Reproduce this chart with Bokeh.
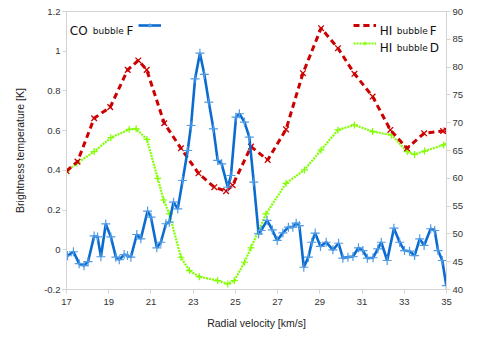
from bokeh.plotting import figure
from bokeh.models import (LinearAxis, Range1d, FixedTicker, Label, Legend, LegendItem)
from bokeh.embed import file_html
from bokeh.resources import INLINE

# ---- data -------------------------------------------------------------
co_v = [17.05, 17.33, 17.6, 17.83, 18.02, 18.31, 18.47, 18.63, 18.86, 19.1,
        19.34, 19.5, 19.73, 19.89, 20.05, 20.33, 20.52, 20.84, 21.0, 21.28,
        21.47, 21.71, 21.87, 22.07, 22.27, 22.5, 22.74, 22.9, 23.09, 23.32,
        23.53, 23.74, 23.96, 24.16, 24.35, 24.64, 24.79, 25.03, 25.19, 25.43,
        25.66, 25.87, 26.1, 26.22, 26.5, 26.75, 26.98, 27.25, 27.51, 27.72,
        27.88, 28.03, 28.24, 28.46, 28.62, 28.78, 29.03, 29.3, 29.62, 29.89,
        30.09, 30.33, 30.57, 30.83, 31.04, 31.25, 31.52, 31.75, 31.91, 32.19,
        32.51, 32.78, 33.01, 33.25, 33.49, 33.73, 33.94, 34.25, 34.44, 34.6,
        34.8, 34.99]
co_t = [-0.03, -0.01, -0.07, -0.08, -0.06, 0.07, 0.065, -0.035, 0.13, 0.065,
        -0.037, -0.05, -0.024, -0.029, -0.037, 0.077, 0.055, 0.195, 0.164, 0.01,
        0.038, 0.131, 0.139, 0.24, 0.206, 0.349, 0.5, 0.626, 0.861, 0.99,
        0.883, 0.744, 0.609, 0.45, 0.433, 0.315, 0.374, 0.668, 0.685, 0.643,
        0.567, 0.341, 0.08, 0.097, 0.148, 0.1, 0.047, 0.085, 0.114, 0.114,
        0.134, 0.122, -0.088, -0.037, 0.038, 0.084, 0.017, 0.038, 0.0, 0.033,
        -0.042, -0.037, -0.034, 0.01, -0.004, -0.042, -0.04, 0.005, 0.038, -0.054,
        0.109, 0.038, -0.004, -0.007, -0.029, 0.055, 0.022, 0.106, 0.097, -0.004,
        -0.054, -0.18]

hif_v = [17.0, 17.52, 18.31, 19.07, 19.9, 20.4, 20.8, 21.63, 22.42, 23.25,
         24.0, 24.56, 24.87, 25.74, 26.53, 27.4, 28.2, 29.06, 29.86, 30.64,
         31.5, 32.34, 33.13, 33.94, 34.84, 35.0]
hif_t = [61.3, 63.0, 70.8, 72.8, 79.5, 81.2, 79.5, 69.9, 65.4, 60.9,
         58.4, 57.7, 58.75, 65.7, 63.3, 68.8, 78.9, 87.0, 83.4, 78.8,
         74.7, 68.7, 65.4, 68.1, 68.5, 68.6]

hid_v = [17.0, 17.49, 18.31, 19.1, 19.97, 20.3, 20.81, 21.32, 21.6, 21.87,
         22.42, 22.82, 23.29, 24.16, 24.64, 24.95, 25.43, 25.74, 26.45, 27.4,
         28.27, 29.06, 29.86, 30.64, 31.5, 32.39, 33.14, 33.49, 33.96, 34.87, 35.0]
hid_t = [61.3, 62.7, 64.8, 67.3, 68.8, 68.9, 67.0, 60.0, 56.1, 53.6,
         45.8, 43.4, 42.3, 41.6, 41.0, 41.6, 44.9, 47.5, 53.6, 59.1,
         61.5, 65.1, 68.7, 69.6, 68.4, 67.8, 64.8, 64.3, 64.9, 66.0, 66.2]

x_ticks = [17, 19, 21, 23, 25, 27, 29, 31, 33, 35]
left_ticks = [-0.2, 0, 0.2, 0.4, 0.6, 0.8, 1, 1.2]
left_tick_labels = ["-0.2", "0", "0.2", "0.4", "0.6", "0.8", "1", "1.2"]
right_ticks = [40, 45, 50, 55, 60, 65, 70, 75, 80, 85, 90]

# ---- style ------------------------------------------------------------
BLUE = "#0a6bd0"
BLUE_M = "#4f9be6"
RED = "#cc0000"
GREEN = "#80ff00"
GREY = "#d4d4d4"
TXT = "#333333"
TICK_FONT = "Liberation Sans"

p = figure(output_backend="svg", toolbar_location=None,
           frame_width=380, frame_height=278, width=482, height=337,
           x_range=Range1d(17, 35), y_range=Range1d(-0.2, 1.2),
           min_border_left=66, min_border_right=36, min_border_top=11,
           min_border_bottom=48)
p.extra_y_ranges = {"right": Range1d(40, 90)}
p.grid.visible = False
p.outline_line_color = GREY
p.outline_line_width = 1
p.background_fill_color = "white"
p.border_fill_color = "white"

def style_axis(ax, standoff):
    ax.axis_line_color = GREY
    ax.major_tick_line_color = GREY
    ax.minor_tick_line_color = None
    ax.major_tick_out = 4
    ax.major_tick_in = 0
    ax.major_label_standoff = standoff
    ax.major_label_text_font = TICK_FONT
    ax.major_label_text_font_size = "9.5px"
    ax.major_label_text_color = TXT
    ax.axis_label_text_font = TICK_FONT
    ax.axis_label_text_font_size = "10.5px"
    ax.axis_label_text_font_style = "normal"
    ax.axis_label_text_color = "#222222"

p.xaxis.ticker = FixedTicker(ticks=x_ticks)
style_axis(p.xaxis[0], 5)
p.xaxis.axis_label = "Radial velocity [km/s]"
p.xaxis.axis_label_standoff = 9
p.yaxis.ticker = FixedTicker(ticks=left_ticks)
p.yaxis.major_label_overrides = {t: s for t, s in zip(left_ticks, left_tick_labels)}
style_axis(p.yaxis[0], 2)
p.yaxis.axis_label = "Brightness temperature [K]"
p.yaxis.axis_label_standoff = 15

rax = LinearAxis(y_range_name="right", ticker=FixedTicker(ticks=right_ticks))
style_axis(rax, 2)
p.add_layout(rax, "right")

# ---- series ----------------------------------------------------------
g_line = p.line(hid_v, hid_t, y_range_name="right", line_color=GREEN,
                line_width=2.2, line_dash="2 1")
g_mk = p.scatter(hid_v, hid_t, y_range_name="right", marker="cross",
                 size=7, line_color=GREEN, line_width=1.2)

r_line = p.line(hif_v, hif_t, y_range_name="right", line_color=RED,
                line_width=3, line_dash="6 4")
r_mk = p.scatter(hif_v, hif_t, y_range_name="right", marker="x",
                 size=8, line_color=RED, line_width=1.3)

b_line = p.line(co_v, co_t, line_color=BLUE, line_width=2.6)
b_mk = p.scatter(co_v, co_t, marker="cross", size=9, line_color=BLUE_M,
                 line_width=1.2)

# ---- legends (glyph samples) ------------------------------------------
def sample(renderers, x, y):
    lg = Legend(items=[LegendItem(label=" ", renderers=renderers)],
                location=(x, y), glyph_width=23, glyph_height=10,
                padding=0, margin=0, spacing=0, label_standoff=0,
                label_text_font_size="1px", label_height=1, label_width=1,
                border_line_alpha=0, background_fill_alpha=0)
    p.add_layout(lg)

sample([b_line, b_mk], 72, 259)
sample([r_line, r_mk], 287, 259)
sample([g_line, g_mk], 287, 241)

LEG_FONT = "DejaVu Sans"
def leg_text(x, y, txt, size):
    p.add_layout(Label(x=x, y=y, x_units="screen", y_units="screen", text=txt,
                       text_font=LEG_FONT, text_font_size=size,
                       text_color="#111111", text_baseline="alphabetic"))

leg_text(3.3, 259, "CO", "12px")
leg_text(26.3, 259, "bubble", "9px")
leg_text(60, 259, "F", "12px")
leg_text(313.3, 259, "HI", "12px")
leg_text(330.3, 259, "bubble", "9px")
leg_text(363.3, 259, "F", "12px")
leg_text(313.3, 242, "HI", "12px")
leg_text(330.3, 242, "bubble", "9px")
leg_text(363.3, 242, "D", "12px")

open("out.html", "w").write(file_html(p, INLINE))
